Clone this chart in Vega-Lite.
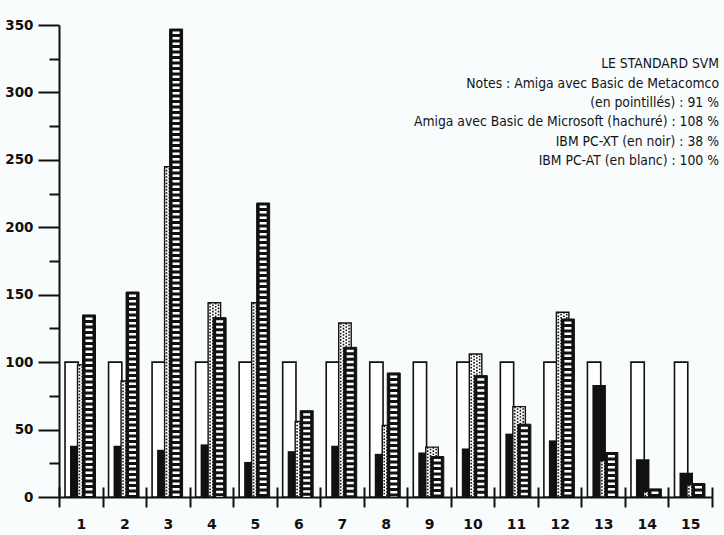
{
  "$schema": "https://vega.github.io/schema/vega-lite/v6.json",
  "width": 653,
  "height": 472,
  "padding": {"left": 4, "top": 18, "right": 6, "bottom": 4},
  "background": "#f8fcfd",
  "title": {
    "text": ["LE STANDARD SVM", "Notes : Amiga avec Basic de Metacomco", "(en pointillés) : 91 %", "Amiga avec Basic de Microsoft (hachuré) : 108 %", "IBM PC-XT (en noir) : 38 %", "IBM PC-AT (en blanc) : 100 %"],
    "orient": "top",
    "anchor": "end",
    "frame": "group",
    "align": "right",
    "baseline": "top",
    "offset": -150,
    "dx": 7,
    "font": "DejaVu Sans Condensed, sans-serif",
    "fontSize": 13.8,
    "fontWeight": "normal",
    "lineHeight": 19.4,
    "color": "#141418"
  },
  "data": {
    "values": [
      {"g": "1", "at": 100, "xt": 38, "meta": 98, "micro": 135},
      {"g": "2", "at": 100, "xt": 38, "meta": 86, "micro": 152},
      {"g": "3", "at": 100, "xt": 35, "meta": 245, "micro": 347},
      {"g": "4", "at": 100, "xt": 39, "meta": 144, "micro": 133},
      {"g": "5", "at": 100, "xt": 26, "meta": 144, "micro": 218},
      {"g": "6", "at": 100, "xt": 34, "meta": 56, "micro": 64},
      {"g": "7", "at": 100, "xt": 38, "meta": 129, "micro": 111},
      {"g": "8", "at": 100, "xt": 32, "meta": 53, "micro": 92},
      {"g": "9", "at": 100, "xt": 33, "meta": 37, "micro": 30},
      {"g": "10", "at": 100, "xt": 36, "meta": 106, "micro": 90},
      {"g": "11", "at": 100, "xt": 47, "meta": 67, "micro": 54},
      {"g": "12", "at": 100, "xt": 42, "meta": 137, "micro": 132},
      {"g": "13", "at": 100, "xt": 83, "meta": 27, "micro": 33},
      {"g": "14", "at": 100, "xt": 28, "meta": 4, "micro": 6},
      {"g": "15", "at": 100, "xt": 18, "meta": 9, "micro": 10}
    ]
  },
  "resolve": {"axis": {"x": "independent", "y": "independent"}},
  "layer": [
    {
      "mark": {"type": "bar", "width": 13.3, "xOffset": -9.1, "fill": "#ffffff", "stroke": "#111", "strokeWidth": 1.6},
      "encoding": {
        "x": {"field": "g", "type": "ordinal", "sort": null, "scale": {"paddingInner": 0, "paddingOuter": 0},
          "axis": {"orient": "bottom", "tickBand": "extent", "tickSize": 10, "tickWidth": 2, "tickColor": "#111", "domainColor": "#111", "domainWidth": 2, "labelAngle": 0, "labelFont": "DejaVu Sans", "labelFontSize": 14, "labelFontWeight": "bold", "labelColor": "#111", "labelPadding": 10, "title": null, "grid": false}},
        "y": {"field": "at", "type": "quantitative", "scale": {"domain": [0, 350], "nice": false},
          "axis": {"orient": "left", "values": [0, 50, 100, 150, 200, 250, 300, 350], "tickSize": 21, "tickWidth": 2, "tickColor": "#111", "domainColor": "#111", "domainWidth": 2, "labelPadding": 5, "labelFont": "DejaVu Sans", "labelFontSize": 13.5, "labelFontWeight": "bold", "labelColor": "#111", "title": null, "grid": false}}
      }
    },
    {
      "mark": {"type": "bar", "width": 13.5, "xOffset": -4, "fill": "#111"},
      "encoding": {
        "x": {"field": "g", "type": "ordinal", "sort": null, "scale": {"paddingInner": 0, "paddingOuter": 0},
          "axis": {"orient": "bottom", "tickBand": "extent", "tickSize": -10, "tickWidth": 2, "tickColor": "#111", "labels": false, "domain": false, "title": null, "grid": false}},
        "y": {"field": "xt", "type": "quantitative", "scale": {"domain": [0, 350], "nice": false},
          "axis": {"orient": "left", "values": [25, 75, 125, 175, 225, 275, 325], "tickSize": 10, "tickWidth": 2, "tickColor": "#111", "labels": false, "domain": false, "title": null, "grid": false}}
      }
    },
    {
      "mark": {"type": "bar", "width": 12.5, "xOffset": 3, "fill": "#ffffff", "stroke": "#111", "strokeWidth": 1.4},
      "encoding": {
        "x": {"field": "g", "type": "ordinal", "sort": null, "axis": null},
        "y": {"field": "meta", "type": "quantitative", "axis": null}
      }
    },
    {
      "mark": {"type": "rule", "xOffset": -1.3, "color": "#111", "strokeWidth": 1.6, "strokeDash": [1.6, 1.6]},
      "encoding": {
        "x": {"field": "g", "type": "ordinal", "sort": null, "axis": null},
        "y": {"field": "meta", "type": "quantitative", "axis": null},
        "y2": {"datum": 0}
      }
    },
    {
      "mark": {"type": "rule", "xOffset": 1.5, "color": "#111", "strokeWidth": 1.6, "strokeDash": [1.6, 1.6], "strokeDashOffset": 1.6},
      "encoding": {
        "x": {"field": "g", "type": "ordinal", "sort": null, "axis": null},
        "y": {"field": "meta", "type": "quantitative", "axis": null},
        "y2": {"datum": 0}
      }
    },
    {
      "mark": {"type": "rule", "xOffset": 4.3, "color": "#111", "strokeWidth": 1.6, "strokeDash": [1.6, 1.6]},
      "encoding": {
        "x": {"field": "g", "type": "ordinal", "sort": null, "axis": null},
        "y": {"field": "meta", "type": "quantitative", "axis": null},
        "y2": {"datum": 0}
      }
    },
    {
      "mark": {"type": "rule", "xOffset": 7.1, "color": "#111", "strokeWidth": 1.6, "strokeDash": [1.6, 1.6], "strokeDashOffset": 1.6},
      "encoding": {
        "x": {"field": "g", "type": "ordinal", "sort": null, "axis": null},
        "y": {"field": "meta", "type": "quantitative", "axis": null},
        "y2": {"datum": 0}
      }
    },
    {
      "mark": {"type": "bar", "width": 13, "xOffset": 8.25, "fill": "#111", "stroke": "#111", "strokeWidth": 1},
      "encoding": {
        "x": {"field": "g", "type": "ordinal", "sort": null, "axis": null},
        "y": {"field": "micro", "type": "quantitative", "axis": null}
      }
    },
    {
      "mark": {"type": "rule", "xOffset": 8.25, "color": "#ffffff", "strokeWidth": 7, "strokeDash": [2.5, 3], "strokeDashOffset": 3},
      "encoding": {
        "x": {"field": "g", "type": "ordinal", "sort": null, "axis": null},
        "y": {"field": "micro", "type": "quantitative", "axis": null},
        "y2": {"datum": 0}
      }
    }
  ],
  "config": {"view": {"stroke": null}}
}
